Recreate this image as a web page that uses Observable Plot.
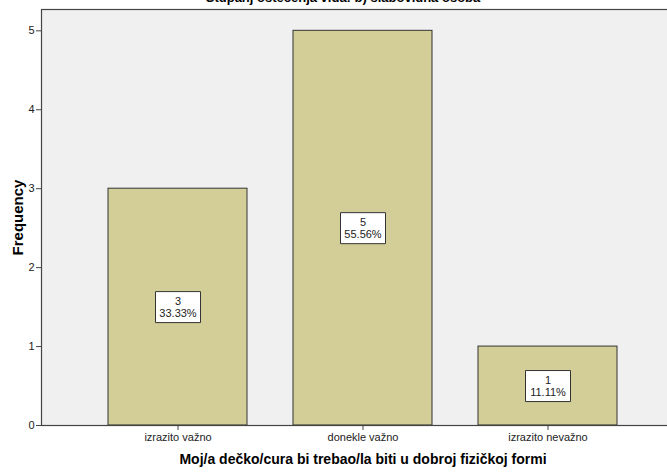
<!DOCTYPE html>
<html>
<head>
<meta charset="utf-8">
<script src="https://cdn.jsdelivr.net/npm/d3@7"></script>
<script src="https://cdn.jsdelivr.net/npm/@observablehq/plot@0.6"></script>
<style>
  html, body { margin: 0; padding: 0; background: #fff; overflow: hidden; }
  #wrap { position: relative; width: 667px; height: 473px; overflow: hidden; }
  #title { position: absolute; left: 0; width: 686px; top: -10px; text-align: center;
           font: bold 13px "Liberation Sans", Arial, sans-serif; color: #000; }
</style>
</head>
<body>
<div id="wrap">
<div id="title">Stupanj oštećenja vida: b) slabovidna osoba</div>
<div id="chart"></div>
</div>
<script>
const categories = ["izrazito važno", "donekle važno", "izrazito nevažno"];
const counts = [3, 5, 1];
const percents = ["33.33%", "55.56%", "11.11%"];
const yTicks = [0, 1, 2, 3, 4, 5];
const xLabel = "Moj/a dečko/cura bi trebao/la biti u dobroj fizičkoj formi";
const yLabel = "Frequency";

const data = categories.map((c, i) => ({cat: c, n: counts[i], pct: percents[i]}));

const boxSymbol = {
  draw(context) {
    const w = 45, h = 31;
    context.moveTo(-w/2, -h/2);
    context.lineTo(w/2, -h/2);
    context.lineTo(w/2, h/2);
    context.lineTo(-w/2, h/2);
    context.closePath();
  }
};

const chart = Plot.plot({
  width: 667,
  height: 473,
  marginTop: 9,
  marginBottom: 48,
  marginLeft: 41,
  marginRight: -17,
  style: {fontFamily: "'Liberation Sans', Arial, sans-serif", fontSize: "11px", background: "#fff", color: "#222"},
  x: {domain: categories, range: [41, 683.5], paddingInner: 0.25, paddingOuter: 0.357, label: null},
  y: {domain: [0, 5.27], label: null},
  marks: [
    Plot.frame({fill: "#f0f0f0", stroke: null}),
    Plot.barY(data, {x: "cat", y: "n", fill: "#d3ce97", stroke: "#333", strokeWidth: 1}),
    Plot.dot(data, {x: "cat", y: d => d.n / 2, symbol: boxSymbol, r: 5, fill: "#fff", stroke: "#333", strokeWidth: 1}),
    Plot.text(data, {x: "cat", y: d => d.n / 2, text: d => d.n + "\n" + d.pct, lineHeight: 1.05, fontSize: 11, fill: "#222"}),
    Plot.frame({stroke: "#444", strokeWidth: 1.2}),
    Plot.axisY({ticks: yTicks, tickFormat: "d", tickSize: 5, tickPadding: 2, label: null, stroke: "#444", fontSize: 11}),
    Plot.axisX({tickSize: 5, tickPadding: 3, label: null, stroke: "#444", fontSize: 11}),
    Plot.text([yLabel], {text: d => d, frameAnchor: "left", textAnchor: "middle", dx: -23, rotate: -90, fontWeight: "bold", fontSize: 15, fill: "#000"}),
    Plot.text([xLabel], {text: d => d, frameAnchor: "bottom", dy: 38, dx: 0, fontWeight: "bold", fontSize: 14, fill: "#000"})
  ]
});
document.getElementById("chart").appendChild(chart);
</script>
</body>
</html>
